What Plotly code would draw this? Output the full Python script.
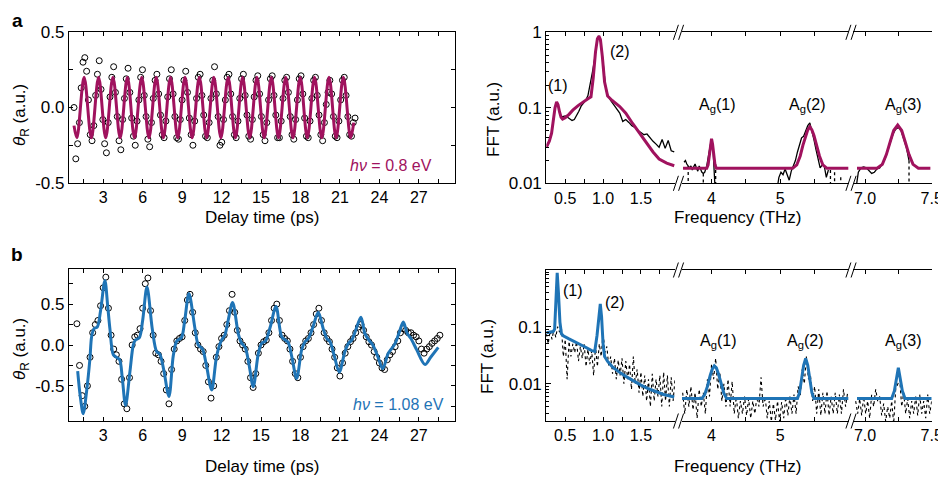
import plotly.graph_objects as go

# ---------------- DATA ----------------
# Panel a: time-domain data (circles), sampled on a uniform delay grid
t_a_start, t_a_step = 0.78, 0.137
theta_a = [
    0.00, -0.34, -0.24, -0.10, 0.13, 0.30, 0.33, 0.24,
    0.05, -0.18, -0.22, -0.12, 0.08, 0.22, 0.31, 0.12,
    -0.08, -0.24, -0.30, -0.10, 0.07, 0.20, 0.27, 0.10,
    -0.06, -0.22, -0.28, -0.08, 0.06, 0.19, 0.26, 0.10,
    -0.07, -0.19, -0.25, -0.09, 0.05, 0.20, 0.25, 0.08,
    -0.06, -0.21, -0.26, -0.10, 0.06, 0.18, 0.22, 0.09,
    -0.05, -0.18, -0.20, -0.09, 0.07, 0.19, 0.25, 0.09,
    -0.06, -0.20, -0.21, -0.08, 0.05, 0.18, 0.24, 0.10,
    -0.07, -0.18, -0.25, -0.09, 0.06, 0.20, 0.22, 0.08,
    -0.05, -0.19, -0.20, -0.10, 0.06, 0.18, 0.27, 0.09,
    -0.06, -0.25, -0.23, -0.08, 0.05, 0.20, 0.22, 0.09,
    -0.06, -0.18, -0.20, -0.09, 0.06, 0.19, 0.22, 0.08,
    -0.05, -0.19, -0.21, -0.08, 0.07, 0.18, 0.21, 0.09,
    -0.06, -0.18, -0.22, -0.10, 0.05, 0.19, 0.21, 0.08,
    -0.05, -0.20, -0.20, -0.09, 0.06, 0.18, 0.20, 0.10,
    -0.06, -0.18, -0.21, -0.08, 0.05, 0.19, 0.21, 0.09,
    -0.07, -0.19, -0.20, -0.09, 0.06, 0.18, 0.20, 0.08,
    -0.05, -0.18, -0.22, -0.10, 0.02, 0.10, 0.18, 0.09,
    -0.06, -0.19, -0.20, -0.09, 0.05, 0.18, 0.20, 0.08,
    -0.06, -0.18, -0.19, -0.10, -0.07,
]
# Panel a: fit (extrema of the oscillation)
fit_a = [(0.78, -0.12), (1.00, -0.2), (1.55, 0.2), (2.10, -0.2), (2.65, 0.2), (3.19, -0.2),
         (3.74, 0.2), (4.29, -0.2), (4.84, 0.2), (5.38, -0.2), (5.93, 0.2), (6.48, -0.2),
         (7.03, 0.2), (7.57, -0.2), (8.12, 0.2), (8.67, -0.2), (9.22, 0.2), (9.76, -0.2),
         (10.31, 0.2), (10.86, -0.2), (11.41, 0.2), (11.95, -0.2), (12.50, 0.2), (13.05, -0.2),
         (13.60, 0.2), (14.14, -0.2), (14.69, 0.2), (15.24, -0.2), (15.79, 0.2), (16.33, -0.2),
         (16.88, 0.2), (17.43, -0.2), (17.98, 0.2), (18.52, -0.2), (19.07, 0.2), (19.62, -0.2),
         (20.17, 0.2), (20.71, -0.2), (21.26, 0.2), (21.81, -0.2), (22.05, -0.1)]

# Panel b: time-domain data (circles)
t_b_start, t_b_step = 1.0, 0.2
theta_b = [
    0.26, -0.25, -0.62, -0.75, -0.50, -0.15, 0.15, 0.25, 0.30, 0.48,
    0.70, 0.83, 0.45, 0.12, -0.05, -0.12, -0.20, -0.42, -0.72, -0.78,
    -0.40, 0.00, 0.10, 0.12, 0.20, 0.45, 0.75, 0.82, 0.42, 0.12,
    -0.10, -0.12, -0.20, -0.35, -0.55, -0.72, -0.30, -0.05, 0.05, 0.08,
    0.10, 0.30, 0.55, 0.62, 0.40, 0.15, 0.00, -0.05, -0.08, -0.25,
    -0.45, -0.65, -0.50, -0.15, -0.02, 0.08, 0.12, 0.25, 0.42, 0.62,
    0.40, 0.18, 0.05, 0.00, -0.05, -0.20, -0.40, -0.52, -0.35, -0.10,
    0.00, 0.04, 0.06, 0.15, 0.30, 0.45, 0.50, 0.30, 0.12, 0.08,
    0.05, -0.05, -0.20, -0.35, -0.40, -0.15, -0.02, 0.05, 0.08, 0.15,
    0.25, 0.38, 0.45, 0.30, 0.15, 0.08, 0.04, -0.05, -0.15, -0.28,
    -0.38, -0.22, -0.10, -0.02, 0.04, 0.08, 0.15, 0.22, 0.25, 0.18,
    0.10, 0.04, 0.00, -0.08, -0.15, -0.22, -0.28, -0.30, -0.18, -0.12,
    -0.08, -0.02, 0.05, 0.15, 0.20, 0.18, 0.15, 0.15, 0.12, 0.10,
    0.05, -0.05, -0.10, -0.05, -0.02, 0.02, 0.05, 0.08, 0.12,
]
fit_b = [(1.06, -0.32), (1.25, -0.62), (1.48, -0.84), (1.75, -0.55), (1.99, -0.17), (2.12, 0.10),
         (2.3, 0.20), (2.55, 0.22), (2.8, 0.42), (3.13, 0.79), (3.34, 0.48), (3.51, 0.2),
         (3.77, -0.12), (4.0, -0.15), (4.25, -0.18), (4.45, -0.4), (4.7, -0.74), (5.03, -0.33),
         (5.29, 0.0), (5.45, 0.06), (5.75, 0.09), (6.0, 0.3), (6.33, 0.71), (6.73, 0.2),
         (7.06, -0.08), (7.3, -0.11), (7.6, -0.3), (8.0, -0.63), (8.33, -0.13), (8.6, 0.05),
         (8.95, 0.09), (9.2, 0.3), (9.52, 0.63), (9.98, 0.2), (10.23, 0.0), (10.55, -0.05),
         (10.85, -0.25), (11.25, -0.55), (11.63, -0.13), (12.0, 0.06), (12.25, 0.12), (12.5, 0.3),
         (12.84, 0.52), (13.27, 0.14), (13.5, 0.03), (13.8, -0.03), (14.1, -0.25), (14.41, -0.51),
         (14.8, -0.1), (15.05, 0.02), (15.35, 0.05), (15.7, 0.22), (16.14, 0.47), (16.57, 0.1),
         (16.85, 0.06), (17.07, 0.03), (17.35, -0.15), (17.71, -0.41), (18.09, -0.06), (18.35, 0.04),
         (18.6, 0.08), (18.95, 0.22), (19.35, 0.4), (19.73, 0.2), (20.0, 0.08), (20.25, 0.04),
         (20.55, -0.12), (20.95, -0.33), (21.38, -0.08), (21.65, 0.02), (21.9, 0.06), (22.2, 0.18),
         (22.6, 0.34), (22.9, 0.14), (23.2, 0.06), (23.5, 0.0), (23.9, -0.15), (24.25, -0.29),
         (24.68, -0.1), (24.95, -0.04), (25.2, 0.02), (25.5, 0.15), (25.82, 0.28), (26.12, 0.14),
         (26.4, 0.08), (26.84, -0.06), (27.47, -0.24), (27.9, -0.15), (28.48, -0.03)]

# Panel a FFT: fit (magenta) per axis segment
fftfit_a1 = [(0.25, 0.030), (0.29, 0.036), (0.32, 0.046), (0.345, 0.07), (0.365, 0.10), (0.386, 0.12),
             (0.405, 0.11), (0.425, 0.088), (0.445, 0.075), (0.465, 0.071), (0.50, 0.074), (0.55, 0.082),
             (0.60, 0.093), (0.67, 0.107), (0.735, 0.12), (0.80, 0.132), (0.84, 0.140), (0.87, 0.25),
             (0.90, 0.55), (0.925, 0.82), (0.945, 0.89), (0.965, 0.80), (0.99, 0.48), (1.02, 0.22),
             (1.06, 0.143), (1.12, 0.125), (1.22, 0.104), (1.30, 0.085), (1.39, 0.062), (1.48, 0.046),
             (1.57, 0.034), (1.66, 0.026), (1.74, 0.021), (1.84, 0.0185), (1.94, 0.0171)]
fftfit_a2 = [(3.585, 0.0158), (3.93, 0.0158), (3.95, 0.0175), (3.97, 0.024), (3.985, 0.033), (4.0, 0.039),
             (4.015, 0.033), (4.03, 0.024), (4.05, 0.0175), (4.07, 0.0158), (5.18, 0.0158), (5.24, 0.0175),
             (5.29, 0.023), (5.33, 0.032), (5.37, 0.043), (5.40, 0.051), (5.43, 0.056), (5.46, 0.051),
             (5.49, 0.043), (5.53, 0.032), (5.57, 0.023), (5.62, 0.0175), (5.68, 0.0158), (5.99, 0.0158)]
fftfit_a3 = [(6.94, 0.0158), (7.09, 0.0158), (7.13, 0.0178), (7.16, 0.024), (7.19, 0.036), (7.215, 0.050),
             (7.245, 0.059), (7.275, 0.050), (7.30, 0.036), (7.33, 0.024), (7.36, 0.0178), (7.40, 0.0158),
             (7.49, 0.0158)]
# Panel a FFT: data (black)
fftdat_a1 = [(0.44, 0.075), (0.47, 0.076), (0.50, 0.078), (0.53, 0.075), (0.56, 0.072), (0.59, 0.068),
             (0.62, 0.070), (0.65, 0.078), (0.68, 0.090), (0.71, 0.105), (0.74, 0.115), (0.77, 0.125),
             (0.80, 0.145), (0.83, 0.20), (0.86, 0.30), (0.89, 0.45), (0.92, 0.75), (0.945, 0.90),
             (0.97, 0.72), (1.00, 0.40), (1.03, 0.20), (1.06, 0.15), (1.10, 0.125), (1.14, 0.11),
             (1.18, 0.095), (1.22, 0.085), (1.26, 0.066), (1.30, 0.070), (1.34, 0.064), (1.38, 0.058),
             (1.42, 0.055), (1.46, 0.050), (1.50, 0.047), (1.54, 0.044), (1.58, 0.045), (1.62, 0.040),
             (1.66, 0.036), (1.70, 0.033), (1.74, 0.030), (1.78, 0.038), (1.82, 0.029), (1.86, 0.037),
             (1.90, 0.027), (1.94, 0.026)]
fftdat_a2 = [(3.60, 0.019), (3.62, 0.020), (3.64, 0.018), (3.66, 0.017), (3.68, 0.016), (3.70, 0.017),
             (3.72, 0.015), (3.74, 0.0165), (3.76, 0.018), (3.78, 0.016), (3.80, 0.0145), (3.82, 0.017),
             (3.84, 0.015), (3.86, 0.014), (3.88, 0.0135), (3.90, 0.014), (3.93, 0.017), (3.96, 0.024),
             (3.99, 0.035), (4.02, 0.030), (4.04, 0.018), (4.06, 0.006), None,
             (4.95, 0.008), (4.98, 0.012), (5.01, 0.014), (5.04, 0.013), (5.07, 0.0155), (5.10, 0.013),
             (5.13, 0.011), (5.16, 0.0145), (5.19, 0.017), (5.22, 0.020), (5.25, 0.026), (5.28, 0.033),
             (5.31, 0.040), (5.34, 0.042), (5.37, 0.050), (5.40, 0.058), (5.43, 0.063), (5.46, 0.050),
             (5.49, 0.038), (5.52, 0.028), (5.55, 0.020), (5.58, 0.016), (5.61, 0.0175), (5.64, 0.017),
             (5.67, 0.012), (5.70, 0.015)]
fftdat_a3 = [(6.93, 0.008), (6.95, 0.014), (6.97, 0.016), (6.99, 0.0165), (7.01, 0.016), (7.03, 0.0145),
             (7.05, 0.0135), (7.07, 0.014), (7.09, 0.0155), (7.11, 0.016), (7.13, 0.018), (7.15, 0.021),
             (7.17, 0.027), (7.19, 0.035), (7.21, 0.045), (7.23, 0.052), (7.25, 0.055), (7.27, 0.050),
             (7.29, 0.040), (7.31, 0.030), (7.33, 0.020)]
# dotted drops of the panel a data (frequency, top value)
drops_a = [(3.66, 0.017), (3.88, 0.0135), (4.06, 0.018), (5.73, 0.015), (5.79, 0.014),
           (5.88, 0.012), (7.33, 0.020)]

# Panel b FFT: fit (blue)
fftfit_b1 = [(0.25, 0.078), (0.30, 0.079), (0.34, 0.082), (0.36, 0.09), (0.375, 0.30), (0.394, 0.87),
             (0.41, 0.40), (0.43, 0.12), (0.45, 0.075), (0.474, 0.069), (0.55, 0.061), (0.65, 0.053),
             (0.75, 0.045), (0.85, 0.038), (0.89, 0.037), (0.92, 0.07), (0.945, 0.16), (0.963, 0.25),
             (0.98, 0.15), (1.0, 0.05), (1.02, 0.030), (1.06, 0.0246), (1.12, 0.020), (1.20, 0.0165),
             (1.30, 0.0135), (1.40, 0.0112), (1.50, 0.0095), (1.60, 0.0082), (1.70, 0.0072),
             (1.80, 0.0065), (1.94, 0.0059)]
fftfit_b2 = [(3.57, 0.00555), (3.86, 0.00555), (3.90, 0.0065), (3.94, 0.009), (3.98, 0.014), (4.01, 0.018),
             (4.04, 0.0206), (4.07, 0.019), (4.10, 0.015), (4.14, 0.010), (4.18, 0.0068), (4.22, 0.00555),
             (5.25, 0.00555), (5.28, 0.007), (5.31, 0.012), (5.34, 0.021), (5.37, 0.0277), (5.40, 0.021),
             (5.43, 0.012), (5.46, 0.007), (5.49, 0.00555), (5.99, 0.00555)]
fftfit_b3 = [(6.94, 0.00555), (7.20, 0.00555), (7.22, 0.0075), (7.235, 0.012), (7.25, 0.019),
             (7.265, 0.012), (7.28, 0.0075), (7.30, 0.00555), (7.50, 0.00555)]
# Panel b FFT: data (black dots)
fftdat_b1 = [(0.250, 0.075), (0.275, 0.05), (0.300, 0.085), (0.325, 0.06), (0.350, 0.09), (0.375, 0.065),
             (0.400, 0.10), (0.425, 0.08), (0.450, 0.095), (0.475, 0.03), (0.500, 0.06), (0.525, 0.012),
             (0.550, 0.055), (0.575, 0.03), (0.600, 0.05), (0.625, 0.035), (0.650, 0.055), (0.675, 0.025),
             (0.700, 0.045), (0.725, 0.028), (0.750, 0.05), (0.775, 0.02), (0.800, 0.04), (0.825, 0.022),
             (0.850, 0.038), (0.875, 0.014), (0.900, 0.045), (0.925, 0.02), (0.950, 0.05), (0.975, 0.03),
             (1.000, 0.08), (1.025, 0.035), (1.050, 0.045), (1.075, 0.02), (1.100, 0.03), (1.125, 0.015),
             (1.150, 0.028), (1.175, 0.012), (1.200, 0.026), (1.225, 0.014), (1.250, 0.028), (1.275, 0.01),
             (1.300, 0.025), (1.325, 0.012), (1.350, 0.022), (1.375, 0.008), (1.400, 0.03), (1.425, 0.01),
             (1.450, 0.018), (1.475, 0.007), (1.500, 0.016), (1.525, 0.006), (1.550, 0.014), (1.575, 0.005),
             (1.600, 0.012), (1.625, 0.004), (1.650, 0.015), (1.675, 0.005), (1.700, 0.012), (1.725, 0.006),
             (1.750, 0.014), (1.775, 0.004), (1.800, 0.016), (1.825, 0.005), (1.850, 0.014), (1.875, 0.004),
             (1.900, 0.013), (1.925, 0.005), (1.950, 0.012)]
fftdat_b2 = [(3.58, 0.007), (3.61, 0.003), (3.64, 0.008), (3.67, 0.004), (3.70, 0.009), (3.73, 0.0035),
             (3.76, 0.007), (3.79, 0.0025), (3.82, 0.008), (3.85, 0.004), (3.88, 0.007), (3.91, 0.003),
             (3.94, 0.012), (3.97, 0.006), (4.00, 0.022), (4.03, 0.012), (4.06, 0.028), (4.09, 0.008),
             (4.12, 0.016), (4.15, 0.005), (4.18, 0.010), (4.21, 0.004), (4.24, 0.012), (4.27, 0.004),
             (4.30, 0.011), (4.33, 0.003), (4.36, 0.006), (4.39, 0.0025), (4.42, 0.005), (4.45, 0.003),
             (4.48, 0.006), (4.51, 0.0028), (4.54, 0.0055), (4.57, 0.0025), (4.60, 0.005), (4.63, 0.003),
             (4.66, 0.006), (4.69, 0.004), (4.72, 0.013), (4.75, 0.004), (4.78, 0.006), (4.81, 0.0025),
             (4.84, 0.005), (4.87, 0.0022), (4.90, 0.0045), (4.93, 0.0023), (4.96, 0.005), (4.99, 0.0022),
             (5.02, 0.0048), (5.05, 0.0025), (5.08, 0.006), (5.11, 0.0028), (5.14, 0.006), (5.17, 0.003),
             (5.20, 0.0065), (5.23, 0.003), (5.26, 0.009), (5.29, 0.006), (5.32, 0.018), (5.35, 0.010),
             (5.38, 0.030), (5.41, 0.012), (5.44, 0.014), (5.47, 0.005), (5.50, 0.009), (5.53, 0.003),
             (5.56, 0.008), (5.59, 0.0028), (5.62, 0.007), (5.65, 0.003), (5.68, 0.0075), (5.71, 0.0028),
             (5.74, 0.006), (5.77, 0.003), (5.80, 0.007), (5.83, 0.003), (5.86, 0.0065), (5.89, 0.003),
             (5.92, 0.008), (5.95, 0.004), (5.98, 0.007)]
fftdat_b3 = [(6.93, 0.005), (6.945, 0.003), (6.96, 0.0055), (6.975, 0.0028), (6.99, 0.006), (7.005, 0.003),
             (7.02, 0.005), (7.035, 0.0025), (7.05, 0.0065), (7.065, 0.004), (7.08, 0.008), (7.095, 0.005),
             (7.11, 0.006), (7.125, 0.0028), (7.14, 0.0045), (7.155, 0.0022), (7.17, 0.004), (7.185, 0.0025),
             (7.20, 0.005), (7.215, 0.002), (7.23, 0.008), (7.245, 0.010), (7.26, 0.012), (7.275, 0.004),
             (7.29, 0.007), (7.305, 0.003), (7.32, 0.0055), (7.335, 0.0025), (7.35, 0.005), (7.365, 0.003),
             (7.38, 0.006), (7.395, 0.0028), (7.41, 0.0065), (7.425, 0.003), (7.44, 0.005), (7.455, 0.0025),
             (7.47, 0.0065), (7.485, 0.003), (7.50, 0.005)]

time_ticks = [3, 6, 9, 12, 15, 18, 21, 24, 27]
peak_labels = ["(1)", "(2)", "A<sub>g</sub>(1)", "A<sub>g</sub>(2)", "A<sub>g</sub>(3)"]

# ---------------- STYLE / LAYOUT HELPERS ----------------
# the page body has an 8 px margin, so the figure is 8 px smaller and positions are shifted
OFF = 8
W, H = 946 - OFF, 479 - OFF
def px(x):
    return (x - OFF) / W
def py(y):
    return 1 - (y - OFF) / H

MAGENTA = "#A0125E"
BLUE = "#1F74B6"
FONT = "Liberation Sans, Arial, sans-serif"
FS = 17
FSX = 16


def xy(pairs):
    xs, ys = [], []
    for p in pairs:
        if p is None:
            xs.append(None); ys.append(None)
        else:
            xs.append(p[0]); ys.append(p[1])
    return xs, ys


fig = go.Figure()

# panel a
t_a = [round(t_a_start + t_a_step * i, 3) for i in range(len(theta_a))]
fig.add_trace(go.Scatter(x=t_a, y=theta_a, mode="markers", xaxis="x", yaxis="y",
                         marker=dict(symbol="circle-open", size=6, color="black", line=dict(width=1))))
fx, fy = xy(fit_a)
fig.add_trace(go.Scatter(x=fx, y=fy, mode="lines", xaxis="x", yaxis="y",
                         line=dict(color=MAGENTA, width=3, shape="spline", smoothing=1)))
# panel b
t_b = [round(t_b_start + t_b_step * i, 3) for i in range(len(theta_b))]
fig.add_trace(go.Scatter(x=t_b, y=theta_b, mode="markers", xaxis="x2", yaxis="y2",
                         marker=dict(symbol="circle-open", size=6, color="black", line=dict(width=1))))
fx, fy = xy(fit_b)
fig.add_trace(go.Scatter(x=fx, y=fy, mode="lines", xaxis="x2", yaxis="y2",
                         line=dict(color=BLUE, width=3, shape="spline", smoothing=0.9)))

# FFT a
for data, xa in [(fftdat_a1, "x3"), (fftdat_a2, "x4"), (fftdat_a3, "x5")]:
    fx, fy = xy(data)
    fig.add_trace(go.Scatter(x=fx, y=fy, mode="lines", xaxis=xa, yaxis="y3",
                             line=dict(color="black", width=1.3)))
for f, v in drops_a:
    xa = "x4" if f < 6.5 else "x5"
    fig.add_trace(go.Scatter(x=[f, f], y=[v, 0.005], mode="lines", xaxis=xa, yaxis="y3",
                             line=dict(color="black", width=1.3, dash="dot")))
for data, xa in [(fftfit_a1, "x3"), (fftfit_a2, "x4"), (fftfit_a3, "x5")]:
    fx, fy = xy(data)
    fig.add_trace(go.Scatter(x=fx, y=fy, mode="lines", xaxis=xa, yaxis="y3",
                             line=dict(color=MAGENTA, width=3)))
# FFT b
for data, xa in [(fftdat_b1, "x6"), (fftdat_b2, "x7"), (fftdat_b3, "x8")]:
    fx, fy = xy(data)
    fig.add_trace(go.Scatter(x=fx, y=fy, mode="lines", xaxis=xa, yaxis="y5",
                             line=dict(color="black", width=1.1, dash="dot")))
for data, xa in [(fftfit_b1, "x6"), (fftfit_b2, "x7"), (fftfit_b3, "x8")]:
    fx, fy = xy(data)
    fig.add_trace(go.Scatter(x=fx, y=fy, mode="lines", xaxis=xa, yaxis="y5",
                             line=dict(color=BLUE, width=3)))

# axes
common = dict(showline=True, linecolor="black", linewidth=1.2, ticks="inside", tickcolor="black",
              ticklen=4, tickwidth=1, showgrid=False, zeroline=False, automargin=False,
              tickfont=dict(family=FONT, size=FS, color="black"))
xfont = dict(family=FONT, size=FSX, color="black")

L_dom = [px(69), px(455)]
seg_dom = [[px(546.3), px(675)], [px(682), px(849)], [px(853), px(931.7)]]
seg_rng = [[0.25, 1.95], [3.57, 6.0], [6.91, 7.5]]
seg_ticks = [([0.5, 1.0, 1.5], ["0.5", "1.0", "1.5"], dict(dtick=0.25, tick0=0)),
             ([4, 5], ["4", "5"], dict(dtick=0.5, tick0=0)),
             ([7.0, 7.5], ["7.0", "7.5"], dict(tickmode="array", tickvals=[7.25]))]
minor_log = [m * 10 ** e for e in (-3, -2, -1) for m in range(2, 10)]

lay = {}
for i, (xa, ya, ydom, yr) in enumerate([("xaxis", "yaxis", [py(183), py(32)], [-0.5, 0.5]),
                                         ("xaxis2", "yaxis2", [py(421), py(269)], [-0.93, 0.93])]):
    anchor_y = "y" if i == 0 else "y2"
    anchor_x = "x" if i == 0 else "x2"
    lay[xa] = dict(common, domain=L_dom, range=[0.4, 29.75], anchor=anchor_y, mirror="ticks",
                   tickmode="array", tickvals=time_ticks, tickfont=xfont,
                   minor=dict(ticks="inside", dtick=1.5, tick0=0, ticklen=4, tickcolor="black"))
    lay[ya] = dict(common, domain=ydom, range=yr, anchor=anchor_x, mirror="ticks",
                   tickmode="array", tickvals=[-0.5, 0, 0.5], ticktext=["-0.5", "0.0", "0.5"],
                   minor=dict(ticks="inside", dtick=0.25, tick0=0, ticklen=4, tickcolor="black"))

for (xnames, yname, yright, ydom, yr, ytv, ytt) in [
        (["xaxis3", "xaxis4", "xaxis5"], "yaxis3", "yaxis4", [py(183.3), py(32.3)], [-2, 0],
         [0.01, 0.1, 1], ["0.01", "0.1", "1"]),
        (["xaxis6", "xaxis7", "xaxis8"], "yaxis5", "yaxis6", [py(421), py(270)], [-2.65, -0.01],
         [0.01, 0.1], ["0.01", "0.1"])]:
    yid = yname.replace("axis", "")
    for k, xn in enumerate(xnames):
        tv, tt, mn = seg_ticks[k]
        lay[xn] = dict(common, domain=seg_dom[k], range=seg_rng[k], anchor=yid, mirror="ticks",
                       tickmode="array", tickvals=tv, ticktext=tt, tickfont=xfont,
                       minor=dict(mn, ticks="inside", ticklen=4, tickcolor="black"))
    first_x = xnames[0].replace("axis", "")
    last_x = xnames[2].replace("axis", "")
    ylog = dict(common, type="log", domain=ydom, range=yr, tickmode="array", tickvals=ytv,
                ticktext=ytt, ticklen=5,
                minor=dict(ticks="inside", tickmode="array", tickvals=minor_log, ticklen=2.5,
                           tickcolor="black"))
    lay[yname] = dict(ylog, anchor=first_x, mirror=False)
    lay[yright] = dict(ylog, anchor=last_x, side="right", overlaying=yid, showticklabels=False)

fig.update_layout(**lay)

# annotations
ann = []
def txt(x, y, s, size=FS, color="black", angle=0, xanchor="center", bold=False, yanchor="middle"):
    ann.append(dict(x=px(x), y=py(y), xref="paper", yref="paper", text=("<b>%s</b>" % s) if bold else s,
                    showarrow=False, xanchor=xanchor, yanchor=yanchor, textangle=angle,
                    font=dict(family=FONT, size=size, color=color)))

txt(17, OFF, "a", size=19, bold=True, yanchor="top")
txt(17, 254, "b", size=19, bold=True)
txt(262, 217, "Delay time (ps)", size=17)
txt(262, 466, "Delay time (ps)", size=17)
txt(738, 217, "Frequency (THz)", size=17)
txt(738, 466, "Frequency (THz)", size=17)
txt(21, 115, "<i>θ</i><sub>R</sub> (a.u.)", angle=-90)
txt(21, 349, "<i>θ</i><sub>R</sub> (a.u.)", angle=-90)
txt(494, 119, "FFT (a.u.)", angle=-90)
txt(487, 357, "FFT (a.u.)", angle=-90)
txt(434, 166, "<i>hν</i> = 0.8 eV", size=16, color=MAGENTA, xanchor="right")
txt(446, 404, "<i>hν</i> = 1.08 eV", size=16, color=BLUE, xanchor="right")
# peak labels
for (x, y), s in zip([(558, 86), (620, 52), (717, 106), (807, 106), (903, 106)], peak_labels):
    txt(x, y, s, size=16)
for (x, y), s in zip([(573, 290), (615, 302), (718, 341), (805, 341), (903, 341)], peak_labels):
    txt(x, y, s, size=16)

# axis break marks
shapes = []
for cx in (678.5, 851):
    for yy in (32.3, 183.3, 270, 421):
        for o in (-2.6, 2.6):
            shapes.append(dict(type="line", xref="paper", yref="paper",
                               x0=px(cx + o - 2.5), y0=py(yy + 7.5), x1=px(cx + o + 2.5), y1=py(yy - 7.5),
                               line=dict(color="black", width=1)))

fig.update_layout(width=W, height=H, margin=dict(l=0, r=0, t=0, b=0, autoexpand=False),
                  paper_bgcolor="white", plot_bgcolor="white", showlegend=False,
                  annotations=ann, shapes=shapes,
                  font=dict(family=FONT, size=FS, color="black"))

fig.write_html("out.html")
